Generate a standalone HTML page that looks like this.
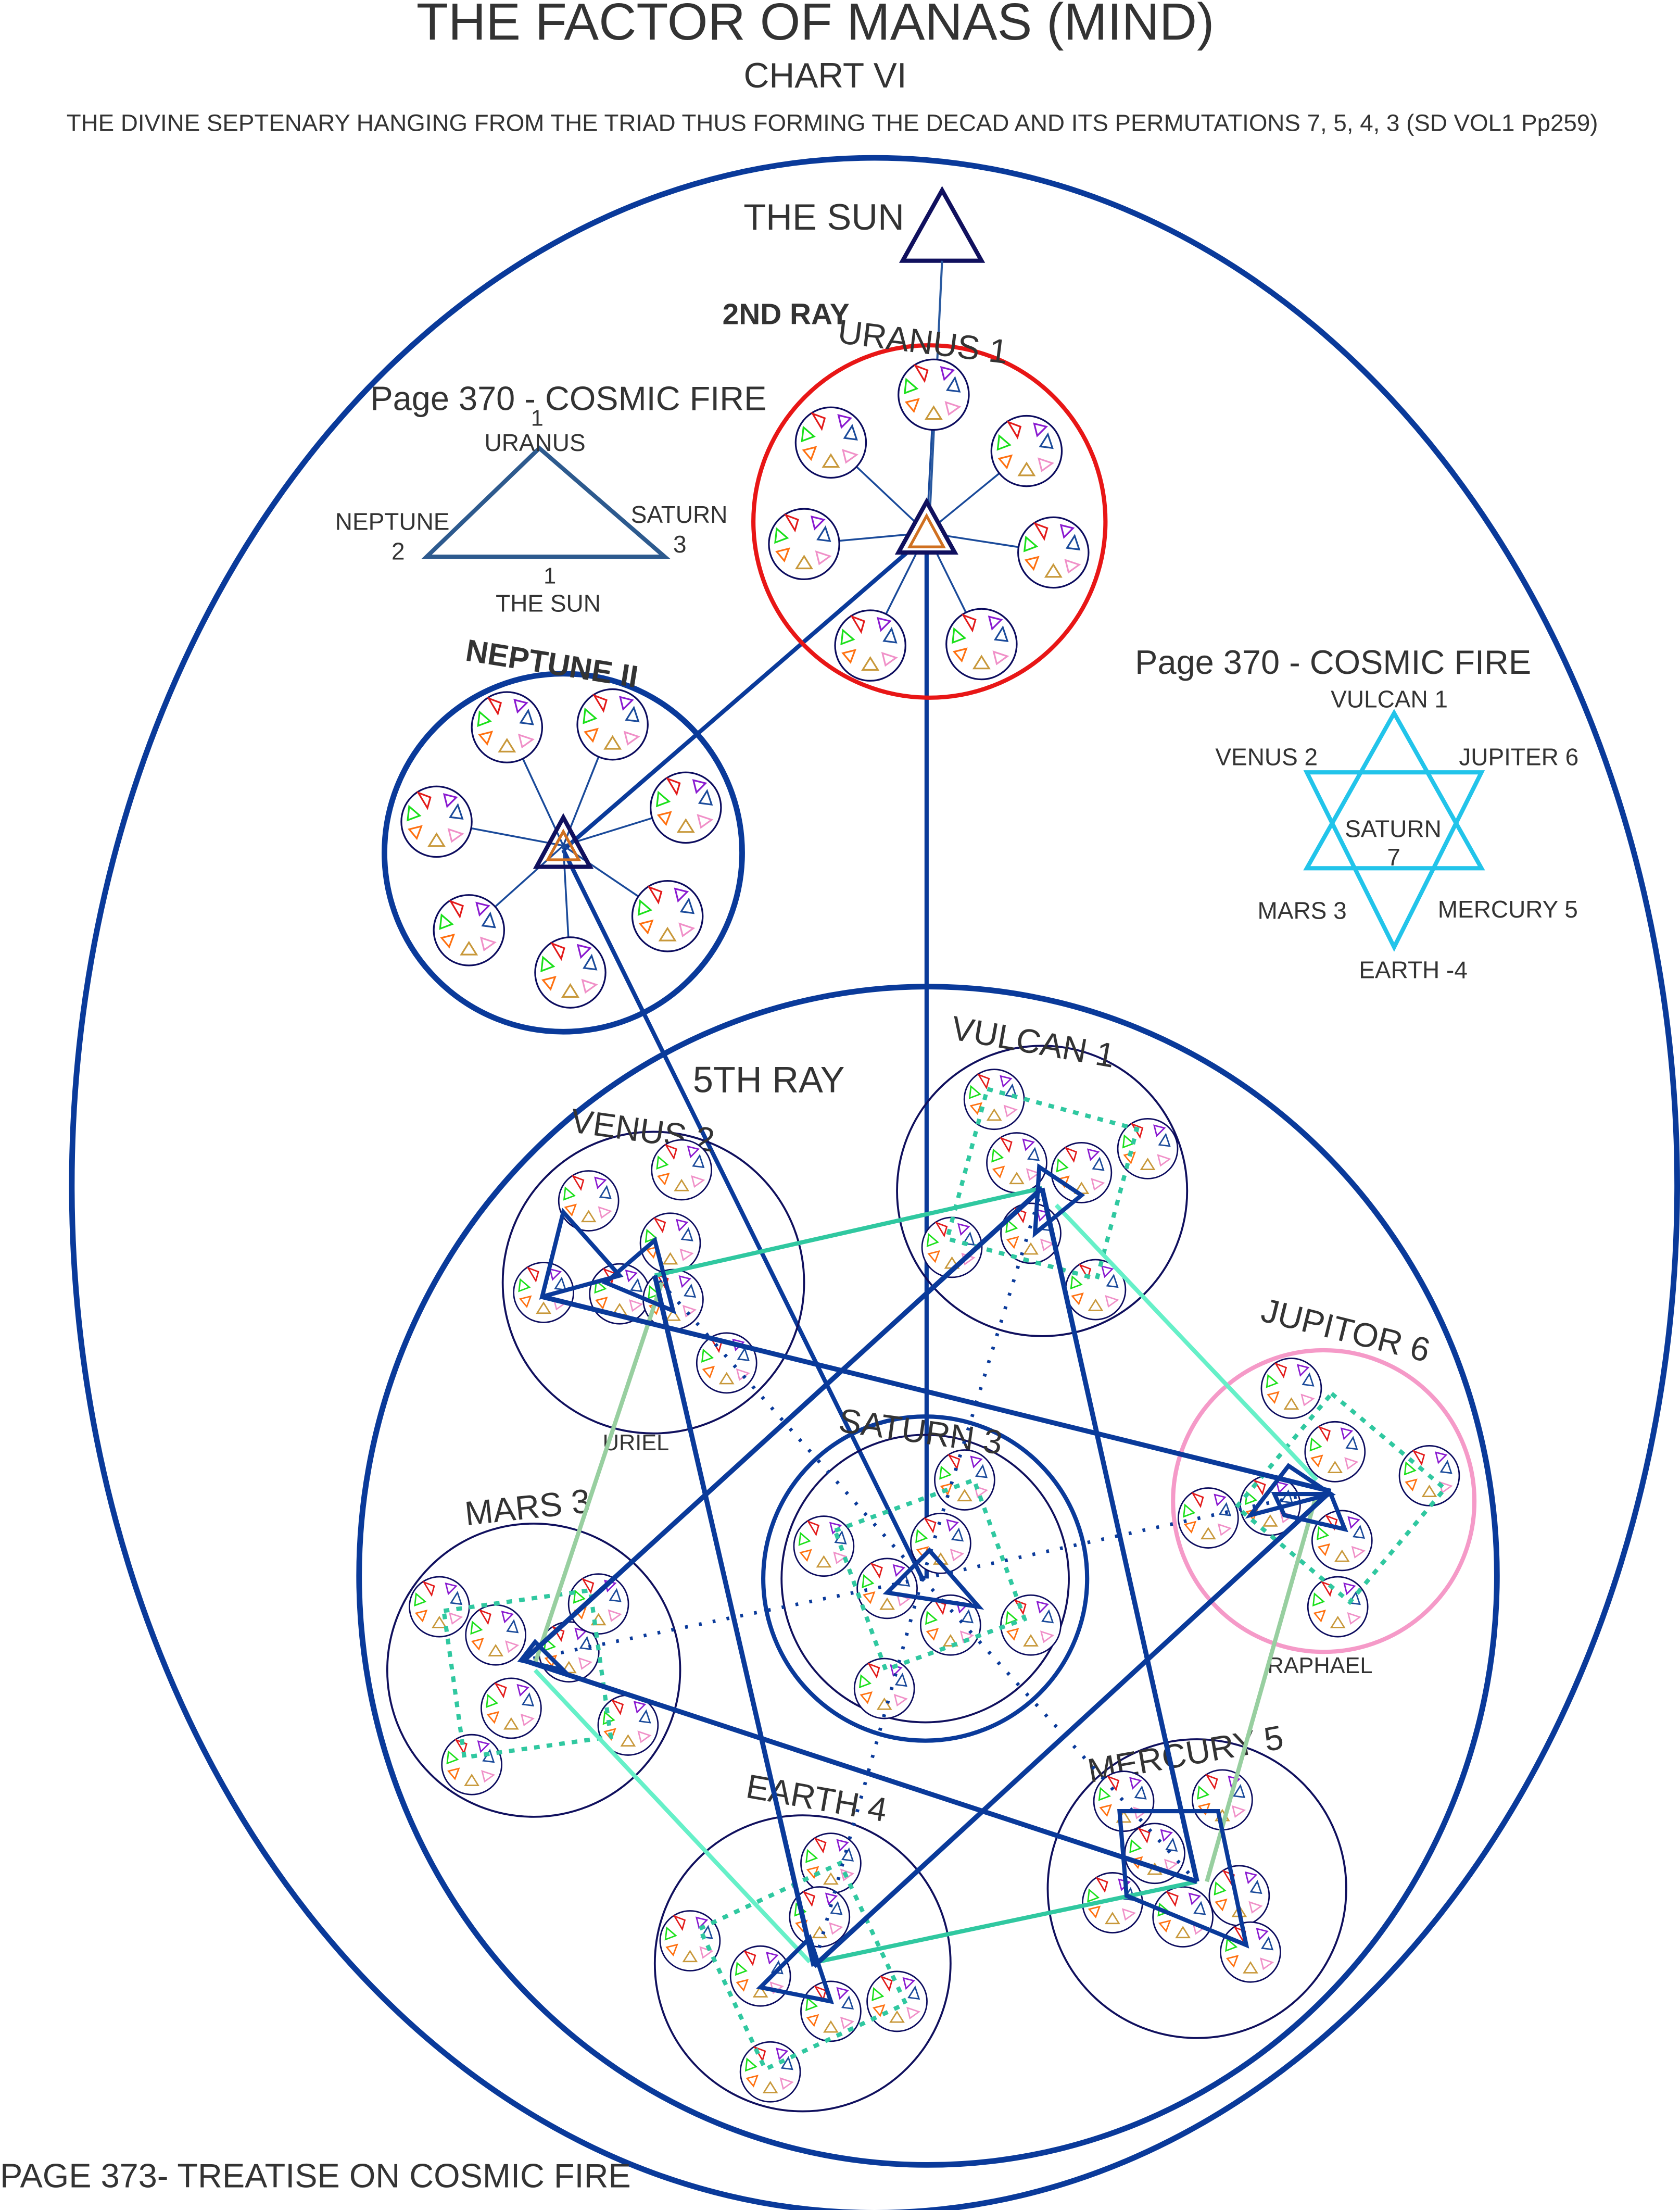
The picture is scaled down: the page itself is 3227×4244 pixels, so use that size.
<!DOCTYPE html>
<html><head><meta charset="utf-8"><style>
html,body{margin:0;padding:0;background:#fff}
svg{display:block}
text{font-family:"Liberation Sans",sans-serif;fill:#333}
</style></head><body>
<svg width="3227" height="4244" viewBox="0 0 1193 1568" preserveAspectRatio="none" xmlns="http://www.w3.org/2000/svg">
<defs>
<g id="m">
<circle r="25" fill="#fff" stroke="#0c0c5e" stroke-width="1.2"/>
<g fill="none" stroke-width="1.1" transform="scale(1.08)">
<path d="M-12,-19 L-4,-16 L-6,-9Z" stroke="#e31a1a"/>
<path d="M5,-18 L13,-16 L7,-10Z" stroke="#8a1ad0"/>
<path d="M14,-11 L17,-2 L9,-3Z" stroke="#1a4a9a"/>
<path d="M-18,-10 L-11,-4 L-19,-1Z" stroke="#1ae01a"/>
<path d="M-18,5 L-10,3 L-13,11Z" stroke="#ff7010"/>
<path d="M8,5 L17,8 L10,13Z" stroke="#f090c8"/>
<path d="M0,8 L5,16 L-5,16Z" stroke="#c8983a"/>
</g>
</g>
<g id="s"><use href="#m" transform="scale(0.85)"/></g>
</defs>

<text x="579" y="28" font-size="37" text-anchor="middle">THE FACTOR OF MANAS (MIND)</text>
<text x="586" y="62" font-size="25" text-anchor="middle">CHART VI</text>
<text x="591" y="93" font-size="16.9" text-anchor="middle">THE DIVINE SEPTENARY HANGING FROM THE TRIAD THUS FORMING THE DECAD AND ITS PERMUTATIONS 7, 5, 4, 3 (SD VOL1 Pp259)</text>

<ellipse cx="621" cy="841" rx="570" ry="729" fill="none" stroke="#0a3a9a" stroke-width="4"/>
<ellipse cx="659" cy="1118" rx="404" ry="418" fill="none" stroke="#0a3a9a" stroke-width="4"/>

<text x="528" y="163" font-size="26">THE SUN</text>
<path d="M669,135 L697,185 L641,185Z" fill="#fff" stroke="#10105e" stroke-width="3"/>
<line x1="669" y1="185" x2="660" y2="370" stroke="#2a5aa0" stroke-width="1.5"/>

<text x="263" y="291" font-size="24">Page 370 - COSMIC FIRE</text>
<path d="M383,318 L472,395 L303,395Z" fill="none" stroke="#2d5a8e" stroke-width="3"/>
<text x="377" y="302" font-size="16">1</text>
<text x="344" y="320" font-size="17">URANUS</text>
<text x="238" y="376" font-size="17">NEPTUNE</text>
<text x="278" y="397" font-size="17">2</text>
<text x="448" y="371" font-size="17">SATURN</text>
<text x="478" y="392" font-size="17">3</text>
<text x="386" y="414" font-size="16">1</text>
<text x="352" y="434" font-size="17">THE SUN</text>

<text x="806" y="478" font-size="24">Page 370 - COSMIC FIRE</text>
<path d="M990,506 L1052,616 L928,616Z" fill="none" stroke="#22c4ea" stroke-width="3"/>
<path d="M990,672 L928,548 L1052,548Z" fill="none" stroke="#22c4ea" stroke-width="3"/>
<text x="945" y="502" font-size="17">VULCAN 1</text>
<text x="863" y="543" font-size="17">VENUS 2</text>
<text x="1036" y="543" font-size="17">JUPITER 6</text>
<text x="955" y="594" font-size="17">SATURN</text>
<text x="985" y="614" font-size="17">7</text>
<text x="893" y="652" font-size="17">MARS 3</text>
<text x="1021" y="651" font-size="17">MERCURY 5</text>
<text x="965" y="694" font-size="17">EARTH -4</text>

<g stroke="#0a3a9a" stroke-width="3" fill="none">
<line x1="658" y1="378" x2="658" y2="1120"/>
<line x1="658" y1="380" x2="400" y2="603"/>
<line x1="400" y1="603" x2="655" y2="1120"/>
</g>

<circle cx="660" cy="370" r="125" fill="none" stroke="#e81616" stroke-width="3"/>
<text x="513" y="230" font-size="21" font-weight="bold">2ND RAY</text>
<text x="595" y="250" font-size="24" transform="rotate(7 650 240)">URANUS 1</text>
<g stroke="#1a4a9a" stroke-width="1.3">
<line x1="658" y1="378" x2="663" y2="282"/><line x1="658" y1="378" x2="729" y2="320"/><line x1="658" y1="378" x2="748" y2="392"/><line x1="658" y1="378" x2="697" y2="457"/><line x1="658" y1="378" x2="618" y2="458"/><line x1="658" y1="378" x2="571" y2="386"/><line x1="658" y1="378" x2="590" y2="314"/>
</g>
<use href="#m" x="663" y="280"/><use href="#m" x="729" y="320"/><use href="#m" x="748" y="392"/><use href="#m" x="697" y="457"/><use href="#m" x="618" y="458"/><use href="#m" x="571" y="386"/><use href="#m" x="590" y="314"/>
<path d="M658,356 L678,392 L638,392Z" fill="#fff" stroke="#10105e" stroke-width="3"/>
<path d="M658,366 L670,388 L646,388Z" fill="none" stroke="#d07020" stroke-width="2"/>

<circle cx="400" cy="605" r="127" fill="none" stroke="#0a3a9a" stroke-width="4"/>
<text x="330" y="478" font-size="22" font-weight="bold" transform="rotate(9 390 472)">NEPTUNE II</text>
<g stroke="#1a4a9a" stroke-width="1.3">
<line x1="400" y1="600" x2="310" y2="583"/><line x1="400" y1="600" x2="360" y2="514"/><line x1="400" y1="600" x2="435" y2="512"/><line x1="400" y1="600" x2="487" y2="573"/><line x1="400" y1="600" x2="474" y2="650"/><line x1="400" y1="600" x2="405" y2="690"/><line x1="400" y1="600" x2="333" y2="660"/>
</g>
<use href="#m" x="310" y="583"/><use href="#m" x="360" y="516"/><use href="#m" x="435" y="514"/><use href="#m" x="487" y="573"/><use href="#m" x="474" y="650"/><use href="#m" x="405" y="690"/><use href="#m" x="333" y="660"/>
<path d="M400,580 L419,615 L381,615Z" fill="none" stroke="#10105e" stroke-width="3"/>
<path d="M400,590 L411,610 L389,610Z" fill="none" stroke="#d07020" stroke-width="2"/>

<g fill="none" stroke="#10105e" stroke-width="1.4">
<circle cx="740" cy="845" r="103"/>
<circle cx="464" cy="910" r="107"/>
<circle cx="657" cy="1120" r="102"/>
<circle cx="379" cy="1185" r="104"/>
<circle cx="570" cy="1393" r="105"/>
<circle cx="850" cy="1340" r="106"/>
</g>
<circle cx="657" cy="1120" r="115" fill="none" stroke="#0a3a9a" stroke-width="3"/>
<circle cx="940" cy="1065" r="107" fill="none" stroke="#f59ac8" stroke-width="3"/>

<text x="492" y="775" font-size="26">5TH RAY</text>
<text x="675" y="745" font-size="24" transform="rotate(10 720 738)">VULCAN 1</text>
<text x="405" y="810" font-size="24" transform="rotate(8 455 802)">VENUS 2</text>
<text x="893" y="952" font-size="24" transform="rotate(14 955 950)">JUPITOR 6</text>
<text x="595" y="1024" font-size="24" transform="rotate(8 655 1018)">SATURN 3</text>
<text x="330" y="1077" font-size="24" transform="rotate(-6 380 1070)">MARS 3</text>
<text x="528" y="1285" font-size="24" transform="rotate(10 585 1285)">EARTH 4</text>
<text x="770" y="1252" font-size="24" transform="rotate(-10 845 1235)">MERCURY 5</text>
<text x="428" y="1029" font-size="16">URIEL</text>
<text x="900" y="1187" font-size="16">RAPHAEL</text>
<text x="0" y="1552" font-size="24">PAGE 373- TREATISE ON COSMIC FIRE</text>

<g>
<use href="#s" x="706" y="780"/><use href="#s" x="815" y="815"/><use href="#s" x="722" y="825"/><use href="#s" x="768" y="832"/><use href="#s" x="732" y="875"/><use href="#s" x="676" y="885"/><use href="#s" x="778" y="915"/>
<use href="#s" x="418" y="852"/><use href="#s" x="484" y="830"/><use href="#s" x="476" y="882"/><use href="#s" x="440" y="918"/><use href="#s" x="386" y="917"/><use href="#s" x="478" y="922"/><use href="#s" x="516" y="967"/>
<use href="#s" x="917" y="985"/><use href="#s" x="948" y="1030"/><use href="#s" x="1015" y="1047"/><use href="#s" x="858" y="1077"/><use href="#s" x="902" y="1068"/><use href="#s" x="953" y="1093"/><use href="#s" x="950" y="1140"/>
<use href="#s" x="685" y="1050"/><use href="#s" x="585" y="1097"/><use href="#s" x="668" y="1095"/><use href="#s" x="630" y="1127"/><use href="#s" x="675" y="1153"/><use href="#s" x="732" y="1153"/><use href="#s" x="628" y="1198"/>
<use href="#s" x="312" y="1140"/><use href="#s" x="352" y="1160"/><use href="#s" x="404" y="1172"/><use href="#s" x="363" y="1212"/><use href="#s" x="446" y="1224"/><use href="#s" x="335" y="1252"/><use href="#s" x="425" y="1138"/>
<use href="#s" x="590" y="1322"/><use href="#s" x="582" y="1360"/><use href="#s" x="490" y="1377"/><use href="#s" x="540" y="1402"/><use href="#s" x="590" y="1427"/><use href="#s" x="637" y="1420"/><use href="#s" x="547" y="1470"/>
<use href="#s" x="798" y="1278"/><use href="#s" x="868" y="1277"/><use href="#s" x="820" y="1315"/><use href="#s" x="880" y="1345"/><use href="#s" x="790" y="1350"/><use href="#s" x="840" y="1360"/><use href="#s" x="888" y="1385"/>
</g>

<g fill="none" stroke="#30c8a0" stroke-width="3" stroke-dasharray="4,5">
<rect x="685" y="785" width="110" height="110" transform="rotate(15 740 840)"/>
<rect x="900" y="1010" width="105" height="105" transform="rotate(40 952 1062)"/>
<rect x="608" y="1065" width="105" height="105" transform="rotate(-20 660 1118)"/>
<rect x="322" y="1135" width="105" height="105" transform="rotate(-8 375 1188)"/>
<rect x="515" y="1340" width="110" height="110" transform="rotate(-25 570 1395)"/>
</g>

<g stroke="#0a3a9a" stroke-width="2.5" stroke-dasharray="2,8" fill="none">
<line x1="655" y1="1120" x2="465" y2="905"/>
<line x1="655" y1="1120" x2="740" y2="843"/>
<line x1="655" y1="1120" x2="930" y2="1060"/>
<line x1="655" y1="1120" x2="372" y2="1178"/>
<line x1="655" y1="1120" x2="578" y2="1395"/>
<line x1="655" y1="1120" x2="845" y2="1330"/>
</g>

<g fill="none" stroke-width="3">
<line x1="465" y1="905" x2="740" y2="843" stroke="#30c8a0"/>
<line x1="750" y1="855" x2="935" y2="1050" stroke="#66f0c8"/>
<line x1="380" y1="1185" x2="575" y2="1392" stroke="#66f0c8"/>
<line x1="580" y1="1392" x2="850" y2="1335" stroke="#30c8a0"/>
<line x1="935" y1="1060" x2="857" y2="1335" stroke="#98cfa0"/>
<line x1="470" y1="910" x2="380" y2="1180" stroke="#98cfa0"/>
</g>
<g fill="none" stroke="#0a3a9a" stroke-width="3.5">
<line x1="385" y1="920" x2="945" y2="1058"/>
<line x1="372" y1="1178" x2="740" y2="843"/>
<line x1="740" y1="843" x2="850" y2="1335"/>
<line x1="372" y1="1178" x2="850" y2="1335"/>
<line x1="465" y1="905" x2="578" y2="1395"/>
<line x1="578" y1="1395" x2="945" y2="1058"/>
</g>

<g fill="none" stroke="#0a3a9a" stroke-width="3">
<path d="M738,828 L768,848 L735,875Z"/>
<path d="M430,910 L465,880 L478,930Z"/>
<path d="M888,1075 L945,1060 L915,1040Z"/>
<path d="M630,1130 L660,1100 L695,1140Z"/>
<path d="M370,1178 L400,1185 L380,1165Z"/>
<path d="M540,1410 L575,1375 L590,1420Z"/>
<path d="M795,1285 L865,1285 L885,1380 L800,1345Z"/>
<path d="M385,920 L400,860 L440,905Z"/>
<path d="M905,1060 L945,1060 L955,1085 L912,1075Z"/>
</g>
</svg>
</body></html>
